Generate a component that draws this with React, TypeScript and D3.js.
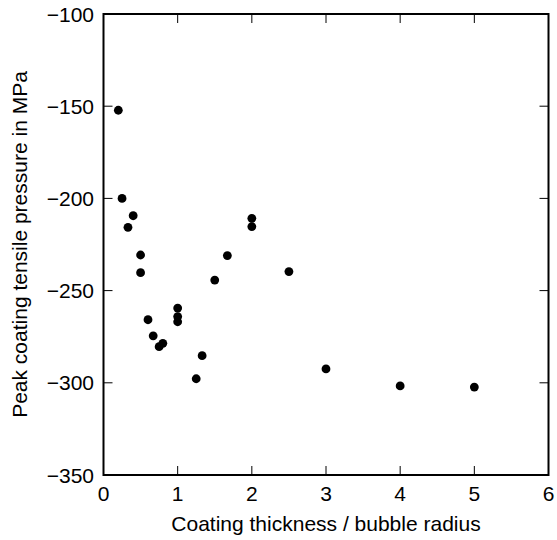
import React from "react";
import * as d3 from "d3";

const ratio = [0.2, 0.25, 0.33, 0.4, 0.5, 0.5, 0.6, 0.67, 0.75, 0.8, 1, 1, 1, 1.25, 1.33, 1.5, 1.67, 2, 2, 2.5, 3, 4, 5];
const pressure = [-152.2, -200, -215.7, -209.4, -230.7, -240.3, -265.8, -274.5, -280.4, -278.6, -259.5, -264.1, -266.9, -297.8, -285.3, -244.3, -231, -210.8, -215.3, -239.7, -292.5, -301.7, -302.3];
const xTicks = [0, 1, 2, 3, 4, 5, 6];
const yTicks = [-350, -300, -250, -200, -150, -100];

export default function App() {
  const W = 557, H = 540;
  const left = 103.5, right = 548.5, top = 14, bottom = 475;
  const x = d3.scaleLinear().domain([0, 6]).range([left, right]);
  const y = d3.scaleLinear().domain([-350, -100]).range([bottom, top]);
  const tl = 9;
  const font = "'Liberation Sans', Arial, sans-serif";
  const fmt = (v: number) => (v < 0 ? "\u2212" + Math.abs(v) : String(v));
  return (
    <svg width={W} height={H} style={{ position: "absolute", left: 0, top: 0, background: "#fff" }}>
      <rect x={0} y={0} width={W} height={H} fill="#fff" />
      {xTicks.map((t) => (
        <g key={"x" + t}>
          <line x1={x(t)} x2={x(t)} y1={bottom} y2={bottom - tl} stroke="#000" strokeWidth={1} />
          <line x1={x(t)} x2={x(t)} y1={top} y2={top + tl} stroke="#000" strokeWidth={1} />
          <text x={x(t)} y={501} textAnchor="middle" fontFamily={font} fontSize={21}>{fmt(t)}</text>
        </g>
      ))}
      {yTicks.map((t) => (
        <g key={"y" + t}>
          <line x1={left} x2={left + tl} y1={y(t)} y2={y(t)} stroke="#000" strokeWidth={1} />
          <line x1={right} x2={right - tl} y1={y(t)} y2={y(t)} stroke="#000" strokeWidth={1} />
          <text x={94} y={y(t)} dy="0.36em" textAnchor="end" fontFamily={font} fontSize={21}>{fmt(t)}</text>
        </g>
      ))}
      {ratio.map((r, i) => (
        <circle key={i} cx={x(r)} cy={y(pressure[i])} r={4.4} fill="#000" />
      ))}
      <rect x={left} y={top} width={right - left} height={bottom - top} fill="none" stroke="#000" strokeWidth={2} />
      <text x={(left + right) / 2} y={531} textAnchor="middle" fontFamily={font} fontSize={21}>Coating thickness / bubble radius</text>
      <text transform={`translate(27, ${(top + bottom) / 2}) rotate(-90)`} textAnchor="middle" fontFamily={font} fontSize={21}>Peak coating tensile pressure in MPa</text>
    </svg>
  );
}
